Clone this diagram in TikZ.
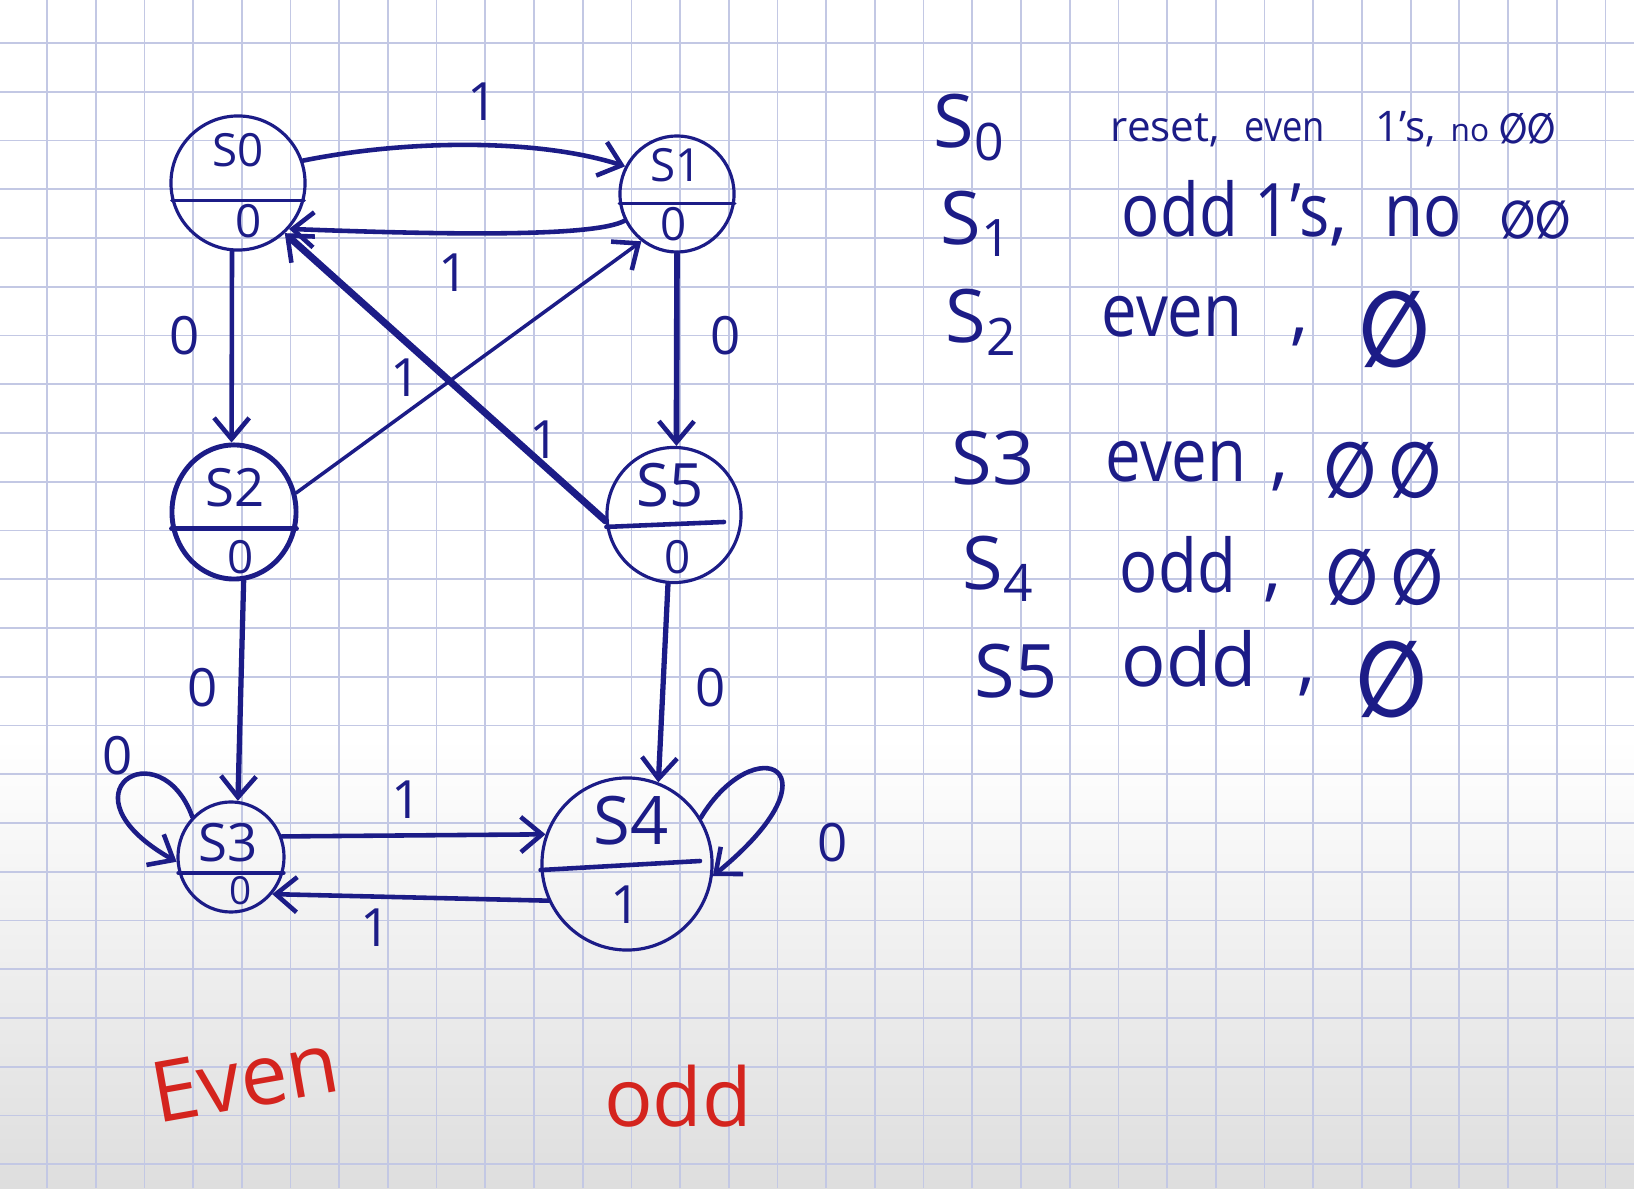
\documentclass[tikz,border=0pt]{standalone}
\usepackage{fontspec}
\setmainfont{Open Sans}
\newfontfamily\djv{DejaVu Sans}
\usetikzlibrary{shapes.geometric,arrows.meta}
\definecolor{ink}{RGB}{28,28,135}
\definecolor{gridc}{RGB}{195,200,228}
\definecolor{redink}{RGB}{212,36,30}
\newcommand{\zs}{{\djv\bfseries\scalebox{0.78}[1]{∅}}}
\newcommand{\nar}[1]{\scalebox{0.86}[1]{#1}}
\begin{document}
\begin{tikzpicture}[x=0.01cm,y=0.01cm,
  st/.style={ellipse,draw=ink,line width=0.9pt,inner sep=0pt},
  divl/.style={draw=ink,line width=0.9pt,line cap=round},
  arr/.style={draw=ink,line width=1.3pt,line cap=round,-{Straight Barb[length=6pt,width=10pt,line width=1.3pt]}},
  nt/.style={text=ink,inner sep=0pt,font=\fontsize{15}{18}\selectfont},
  outt/.style={text=ink,inner sep=0pt,font=\fontsize{13}{16}\selectfont},
  lbl/.style={text=ink,inner sep=0pt,font=\fontsize{15}{18}\selectfont},
  rowt/.style={text=ink,inner sep=0pt,anchor=base west,font=\fontsize{21}{25}\selectfont},
  rowsm/.style={text=ink,inner sep=0pt,anchor=base west,font=\fontsize{12}{15}\selectfont},
  zset/.style={text=ink,inner sep=0pt,font=\fontsize{22}{26}\selectfont},
  redt/.style={text=redink,inner sep=0pt,font=\fontsize{24}{28}\selectfont}
]
\useasboundingbox (0,0) rectangle (1634,1188);
\fill[white] (0,0) rectangle (1634,1188);
\shade[top color=white,bottom color=black!13] (0,0) rectangle (1634,450);
\foreach \i in {0,...,32} \draw[gridc,line width=0.5pt] ({47+48.7*\i},0) -- ({47+48.7*\i},1188);
\foreach \j in {0,...,23} \draw[gridc,line width=0.5pt] (0,{1145-48.75*\j}) -- (1634,{1145-48.75*\j});

% states
\node[st,minimum width=1.34cm,minimum height=1.34cm] (s0) at (238,1005) {};
\node[st,minimum width=1.14cm,minimum height=1.16cm] (s1) at (677,994) {};
\node[st,minimum width=1.24cm,minimum height=1.34cm,line width=1.4pt] (s2) at (234,676) {};
\node[st,minimum width=1.34cm,minimum height=1.35cm] (s5) at (674,673) {};
\node[st,minimum width=1.06cm,minimum height=1.10cm] (s3) at (231,331) {};
\node[st,minimum width=1.70cm,minimum height=1.72cm] (s4) at (627,324) {};

\draw[divl] (s0.195) -- (s0.345);
\draw[divl] (s1.189) -- (s1.351);
\draw[divl,line width=1.3pt] (s2.195) -- (s2.345);
\coordinate (s5r) at (724,666);
\draw[divl,line width=1.3pt] (s5.190) -- (s5r);
\draw[divl,line width=1.3pt] (s3.197) -- (s3.343);
\coordinate (s4r) at (700,327);
\draw[divl,line width=1.3pt] (s4.184) -- (s4r);

\node[nt,font=\fontsize{13}{16}\selectfont] (t0a) at (238,1038) {S0};
\node[outt] (t0b) at (249,967) {0};
\node[nt,font=\fontsize{13}{16}\selectfont] (t1a) at (676,1023) {S1};
\node[outt] (t1b) at (674,964) {0};
\node[nt] (t2a) at (235,700) {S2};
\node[outt] (t2b) at (241,631) {0};
\node[nt,font=\fontsize{17}{20}\selectfont] (t5a) at (670,703) {S5};
\node[outt] (t5b) at (678,631) {0};
\node[nt] (t3a) at (228,345) {S3};
\node[outt,font=\fontsize{11}{13}\selectfont] (t3b) at (241,297) {0};
\node[nt,font=\fontsize{19}{22}\selectfont] (t4a) at (631,367) {S4};
\node[nt] (t4b) at (626,283) {1};

% transitions
\draw[arr] (s0.19) .. controls (410,1049) and (540,1049) .. (s1.152);
\node[lbl] (l01) at (483,1086) {1};
\draw[arr] (s1.207) .. controls (595,951) and (450,953) .. (s0.318);
\node[lbl] (l10) at (454,915) {1};
\draw[arr,line width=2pt] (s5.185) -- (s0.313);
\node[lbl] (l50) at (545,748) {1};
\draw[arr,line width=1pt] (s2.17) -- (s1.233);
\node[lbl] (l21) at (406,810) {1};
\draw[arr] (s0.265) -- (s2.92);
\node[lbl] (l02) at (185,852) {0};
\draw[arr,line width=1.6pt] (s1.270) -- (s5.88);
\node[lbl] (l15) at (726,852) {0};
\draw[arr,line width=1.5pt] (s2.278) -- (s3.83);
\node[lbl] (l23) at (203,500) {0};
\draw[arr,line width=1.5pt] (s5.265) -- (s4.69);
\node[lbl] (l54) at (711,500) {0};
\draw[arr] (s3.22) -- (s4.160);
\node[lbl] (l34) at (407,388) {1};
\draw[arr] (s4.205) -- (s3.318);
\node[lbl] (l43) at (376,260) {1};
\draw[arr] (s3.134) .. controls (160,460) and (55,395) .. (s3.185);
\node[lbl] (l33) at (118,432) {0};
\draw[arr] (s4.32) .. controls (755,460) and (845,420) .. (s4.352);
\node[lbl] (l44) at (833,345) {0};

% group labels
\node[redt,rotate=10] (even) at (245,110) {Even};
\node[redt,font=\fontsize{23}{28}\selectfont] (odd) at (678,92) {odd};

% table
\node[rowt] (r0s) at (933,1040) {S\textsubscript{0}};
\node[rowsm] (r0a) at (1110,1046) {reset,};
\node[rowsm] (r0b) at (1244,1046) {\nar{even}};
\node[rowsm] (r0c) at (1375,1046) {1's,};
\node[rowsm,font=\fontsize{9}{11}\selectfont] (r0d) at (1450,1046) {no};
\node[rowsm,font=\fontsize{12}{14}\selectfont] (r0e) at (1499,1044) {\zs\zs};

\node[rowt] (r1s) at (940,943) {S\textsubscript{1}};
\node[rowt] (r1a) at (1121,951) {\nar{odd 1's}};
\node[rowt] (r1b) at (1329,951) {,};
\node[rowt] (r1c) at (1384,951) {\nar{no}};
\node[rowt,font=\fontsize{15}{18}\selectfont] (r1d) at (1500,949) {\zs\zs};

\node[rowt] (r2s) at (945,845) {S\textsubscript{2}};
\node[rowt] (r2a) at (1101,851) {\nar{even}};
\node[rowt] (r2b) at (1290,851) {,};
\node[zset,font=\fontsize{30}{34}\selectfont] (r2c) at (1395,858) {\zs};

\node[rowt] (r3s) at (951,703) {S3};
\node[rowt] (r3a) at (1105,706) {\nar{even}};
\node[rowt] (r3b) at (1270,706) {,};
\node[zset] (r3c) at (1383,718) {\zs\,\zs};

\node[rowt] (r4s) at (962,598) {S\textsubscript{4}};
\node[rowt] (r4a) at (1119,595) {\nar{odd}};
\node[rowt] (r4b) at (1263,595) {,};
\node[zset] (r4c) at (1385,611) {\zs\,\zs};

\node[rowt] (r5s) at (974,490) {S5};
\node[rowt] (r5a) at (1121,501) {odd};
\node[rowt] (r5b) at (1297,501) {,};
\node[zset,font=\fontsize{30}{34}\selectfont] (r5c) at (1392,508) {\zs};
\end{tikzpicture}
\end{document}
